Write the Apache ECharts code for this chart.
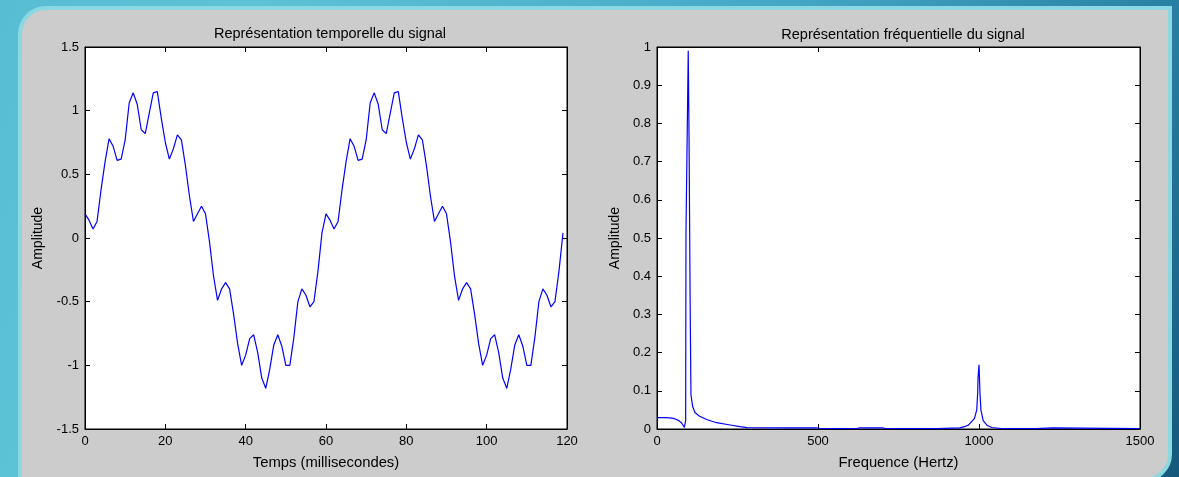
<!DOCTYPE html>
<html>
<head>
<meta charset="utf-8">
<script src="https://cdn.jsdelivr.net/npm/echarts@6/dist/echarts.min.js"></script>
<style>
  html, body { margin: 0; padding: 0; width: 1179px; height: 477px; overflow: hidden; }
  body {
    background: linear-gradient(115deg, #56bdd3 0%, #5cc3d7 18%, #45a9c6 55%, #2b84a8 82%, #15587b 100%);
    position: relative;
  }
  #frame {
    position: absolute; left: 18px; top: 6px; width: 1154px; height: 476px;
    box-sizing: border-box; border: 4px solid #8bd8e3; background: #cccccc;
    border-radius: 28px 0 28px 0;
  }
  #chart { position: absolute; left: 0; top: 0; width: 1179px; height: 477px; }
</style>
</head>
<body>
<div id="frame"></div>
<div id="chart"></div>
<script>
// Time-domain signal, one sample per millisecond (0 .. 119 ms)
const sampleStepMs = 1;
const signal = [
   0.19,  0.14,  0.07,  0.13,  0.38,  0.60,  0.78,  0.72,  0.61,  0.62,
   0.77,  1.06,  1.14,  1.05,  0.85,  0.82,  0.98,  1.14,  1.15,  0.94,
   0.75,  0.62,  0.70,  0.81,  0.77,  0.57,  0.33,  0.13,  0.19,  0.25,
   0.19, -0.03, -0.30, -0.49, -0.40, -0.35, -0.40, -0.60, -0.83, -1.00,
  -0.92, -0.79, -0.76, -0.90, -1.10, -1.18, -1.03, -0.84, -0.76, -0.85,
  -1.00, -1.00, -0.78, -0.50, -0.40, -0.45, -0.54, -0.50, -0.26,  0.04,
   0.19,  0.14,  0.07,  0.13,  0.38,  0.60,  0.78,  0.72,  0.61,  0.62,
   0.77,  1.06,  1.14,  1.05,  0.85,  0.82,  0.98,  1.14,  1.15,  0.94,
   0.75,  0.62,  0.70,  0.81,  0.77,  0.57,  0.33,  0.13,  0.19,  0.25,
   0.19, -0.03, -0.30, -0.49, -0.40, -0.35, -0.40, -0.60, -0.83, -1.00,
  -0.92, -0.79, -0.76, -0.90, -1.10, -1.18, -1.03, -0.84, -0.76, -0.85,
  -1.00, -1.00, -0.78, -0.50, -0.40, -0.45, -0.54, -0.50, -0.26,  0.04
];

// Amplitude spectrum (Hz, normalised amplitude)
const freqHz = [
  0, 20, 40, 55, 68, 77, 85, 89, 90, 97,
  99.5, 101, 103, 105.5, 111, 118, 131, 154, 185, 227,
  258, 279, 400, 495, 500, 505, 520, 620, 630, 700,
  710, 870, 875, 940, 955, 967, 980, 986, 993, 996,
  997, 1000, 1001.5, 1003, 1006, 1013, 1026, 1040, 1063, 1070,
  1175, 1180, 1230, 1235, 1500
];
const ampSpectrum = [
  0.030, 0.030, 0.029, 0.027, 0.022, 0.015, 0.004, 0.022, 0.512, 0.990,
  0.765, 0.765, 0.320, 0.089, 0.058, 0.043, 0.034, 0.025, 0.0165, 0.0105,
  0.006, 0.0035, 0.003, 0.003, 0.006, 0.002, 0.001, 0.001, 0.003, 0.003,
  0.001, 0.001, 0.002, 0.003, 0.006, 0.010, 0.022, 0.028, 0.050, 0.096,
  0.133, 0.168, 0.133, 0.094, 0.050, 0.022, 0.009, 0.004, 0.002, 0.001,
  0.001, 0.003, 0.003, 0.001, 0.001
];

const timeTicks = { min: 0, max: 120, interval: 20 };
const ampTicks = { min: -1.5, max: 1.5, interval: 0.5 };
const freqTicks = { min: 0, max: 1500, interval: 500 };
const specTicks = { min: 0, max: 1, interval: 0.1 };

const FONT = 'Liberation Sans, Arial, sans-serif';
const tickFont = { color: '#000', fontFamily: FONT, fontSize: 13 };
const nameFont = { color: '#000', fontFamily: FONT, fontSize: 14 };
const xNameFont = { color: '#000', fontFamily: FONT, fontSize: 14.8 };
const titleFont = { color: '#000', fontFamily: FONT, fontSize: 14.5, fontWeight: 'normal' };

function fmt(v) { return String(Math.round(v * 10) / 10); }

function axis(grid, range, position, withLabels, extra) {
  return Object.assign({
    type: 'value', gridIndex: grid, position: position,
    min: range.min, max: range.max, interval: range.interval,
    axisLine: { show: true, onZero: false, lineStyle: { color: '#000', width: 1 } },
    axisTick: { show: true, inside: true, length: 5, lineStyle: { color: '#000', width: 1 } },
    axisLabel: Object.assign({ show: withLabels, margin: 6, formatter: fmt }, tickFont),
    splitLine: { show: false }
  }, extra || {});
}

const chart = echarts.init(document.getElementById('chart'), null, { renderer: 'canvas' });

chart.setOption({
  backgroundColor: 'transparent',
  animation: false,
  title: [
    { text: 'Représentation temporelle du signal', left: 325, top: 21, textAlign: 'center', textStyle: titleFont },
    { text: 'Représentation fréquentielle du signal', left: 898, top: 22, textAlign: 'center', textStyle: titleFont }
  ],
  grid: [
    { left: 85, top: 47, width: 482, height: 382, show: true, backgroundColor: '#fff', borderColor: '#000', borderWidth: 1 },
    { left: 657, top: 47, width: 483, height: 382, show: true, backgroundColor: '#fff', borderColor: '#000', borderWidth: 1 }
  ],
  xAxis: [
    axis(0, timeTicks, 'bottom', true, {
      name: 'Temps (millisecondes)', nameLocation: 'middle', nameGap: 26, nameTextStyle: xNameFont }),
    axis(0, timeTicks, 'top', false),
    axis(1, freqTicks, 'bottom', true, {
      name: 'Frequence (Hertz)', nameLocation: 'middle', nameGap: 26, nameTextStyle: xNameFont }),
    axis(1, freqTicks, 'top', false)
  ],
  yAxis: [
    axis(0, ampTicks, 'left', true, {
      name: 'Amplitude', nameLocation: 'middle', nameGap: 40, nameTextStyle: nameFont }),
    axis(0, ampTicks, 'right', false),
    axis(1, specTicks, 'left', true, {
      name: 'Amplitude', nameLocation: 'middle', nameGap: 35, nameTextStyle: nameFont }),
    axis(1, specTicks, 'right', false)
  ],
  series: [
    {
      type: 'line', xAxisIndex: 0, yAxisIndex: 0, showSymbol: false, silent: true,
      lineStyle: { color: '#0000ff', width: 1.2 },
      data: signal.map((v, i) => [i * sampleStepMs, v])
    },
    {
      type: 'line', xAxisIndex: 2, yAxisIndex: 2, showSymbol: false, silent: true,
      lineStyle: { color: '#0000ff', width: 1.2 },
      data: freqHz.map((f, i) => [f, ampSpectrum[i]])
    }
  ]
});
</script>
</body>
</html>
